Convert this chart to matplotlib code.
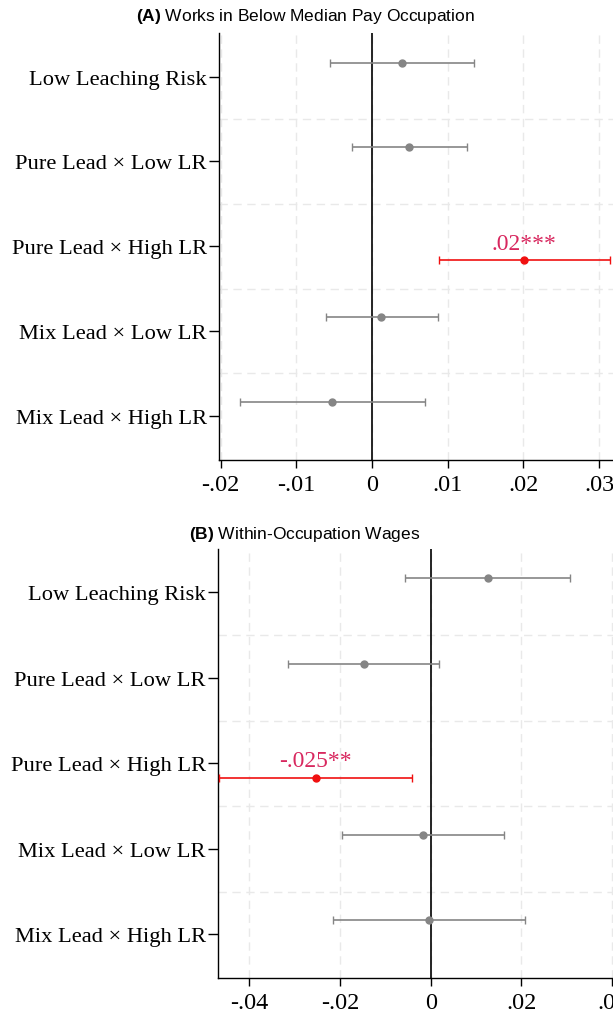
import matplotlib
matplotlib.use("Agg")
import matplotlib.pyplot as plt
from matplotlib.ticker import FixedLocator

plt.rcParams['mathtext.fontset'] = 'custom'
plt.rcParams['mathtext.bf'] = 'Liberation Sans:bold'
plt.rcParams['mathtext.rm'] = 'Liberation Sans'

categories = ["Low Leaching Risk", "Pure Lead × Low LR", "Pure Lead × High LR",
              "Mix Lead × Low LR", "Mix Lead × High LR"]

# Panel A: Works in Below Median Pay Occupation
coef_a = [0.0040, 0.0049, 0.0201, 0.0012, -0.0053]
lo_a = [-0.0055, -0.0026, 0.0088, -0.0061, -0.0175]
hi_a = [0.0135, 0.0125, 0.0315, 0.0087, 0.0070]
sig_a = [False, False, True, False, False]
lab_a = ["", "", ".02***", "", ""]
xticks_a = [-0.02, -0.01, 0, 0.01, 0.02, 0.03]
xticklabels_a = ["-.02", "-.01", "0", ".01", ".02", ".03"]

# Panel B: Within-Occupation Wages
coef_b = [0.0126, -0.0148, -0.0254, -0.0018, -0.0004]
lo_b = [-0.0057, -0.0315, -0.0466, -0.0196, -0.0216]
hi_b = [0.0308, 0.0019, -0.0042, 0.0161, 0.0208]
sig_b = [False, False, True, False, False]
lab_b = ["", "", "-.025**", "", ""]
xticks_b = [-0.04, -0.02, 0, 0.02, 0.04]
xticklabels_b = ["-.04", "-.02", "0", ".02", ".04"]

W, H = 613, 1012
fig = plt.figure(figsize=(W / 100, H / 100), dpi=100)

GRAY = "#858585"
RED = "#f01010"
LABRED = "#d8285f"
SERIF = "Liberation Serif"
SANS = "Liberation Sans"


def panel(rect, coef, lo, hi, sig, lab, xt, xtl, xlim, ylim):
    ax = fig.add_axes(rect)
    ypos = list(range(1, len(categories) + 1))
    for i, y in enumerate(ypos):
        col = RED if sig[i] else GRAY
        yy = y + 0.165 if sig[i] else y - 0.165
        ax.errorbar([coef[i]], [yy], xerr=[[coef[i] - lo[i]], [hi[i] - coef[i]]],
                    fmt='o', color=col, ecolor=col, markersize=5, elinewidth=1.2,
                    capsize=3, capthick=1.0, zorder=3)
        if lab[i]:
            ax.annotate(lab[i], (coef[i], yy), xytext=(0, 17), textcoords='offset pixels',
                        ha='center', va='center', color=LABRED, fontsize=17,
                        family=SERIF, zorder=4)
    ax.axvline(0, color='black', lw=1.2, zorder=2)
    ax.set_xlim(*xlim)
    ax.set_ylim(*ylim)
    ax.set_yticks(ypos)
    ax.set_yticklabels(categories, family=SERIF, fontsize=16.2)
    ax.yaxis.set_minor_locator(FixedLocator([y + 0.5 for y in ypos[:-1]]))
    ax.set_xticks(xt)
    ax.set_xticklabels(xtl, family=SERIF, fontsize=17.5)
    ax.tick_params(axis='y', which='major', length=7, width=1.0, pad=2)
    ax.tick_params(axis='y', which='minor', length=0)
    ax.tick_params(axis='x', length=6, width=1.0, pad=4)
    ax.grid(True, axis='x', which='major', color='#e9e9e9', ls=(0, (6, 4)), lw=1.0)
    ax.grid(True, axis='y', which='minor', color='#e9e9e9', ls=(0, (6, 4)), lw=1.0)
    ax.set_axisbelow(True)
    for s in ['top', 'right']:
        ax.spines[s].set_visible(False)
    for s in ['left', 'bottom']:
        ax.spines[s].set_linewidth(1.0)
    return ax


axA = panel([219.3 / W, (H - 460.7) / H, (W - 219.3) / W, (460.7 - 34) / H],
            coef_a, lo_a, hi_a, sig_a, lab_a, xticks_a, xticklabels_a,
            (-0.02018, 0.03185), (5.519, 0.484))
axB = panel([218.3 / W, (H - 979) / H, (W - 218.3) / W, (979 - 550) / H],
            coef_b, lo_b, hi_b, sig_b, lab_b, xticks_b, xticklabels_b,
            (-0.04686, 0.04022), (5.509, 0.492))

fig.text(305 / W, 1 - 17 / H, r"$\bf{(A)}$ Works in Below Median Pay Occupation",
         ha='center', va='center', fontsize=12.5, family=SANS)
fig.text(305 / W, 1 - 535 / H, r"$\bf{(B)}$ Within-Occupation Wages",
         ha='center', va='center', fontsize=12.5, family=SANS)

fig.savefig("out.png", dpi=100)
